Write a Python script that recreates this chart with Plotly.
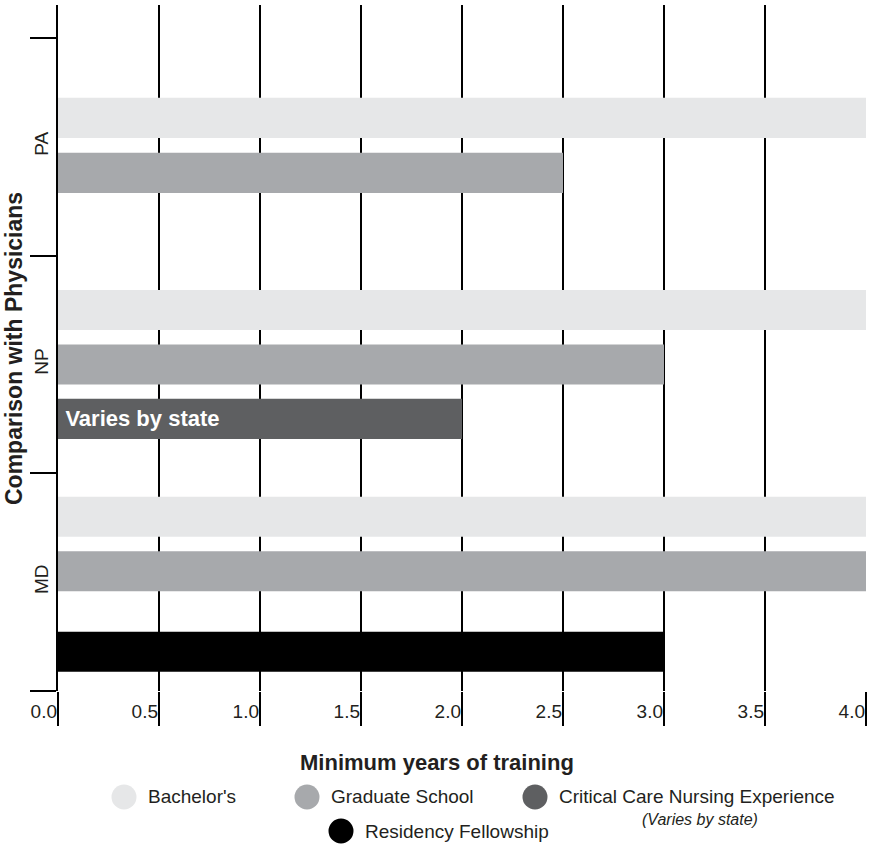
import plotly.graph_objects as go

# ---- data -------------------------------------------------------------
categories = ["MD", "NP", "PA"]
series_names = [
    "Bachelor's",
    "Graduate School",
    "Critical Care Nursing Experience",
    "Residency Fellowship",
]
bachelors = [4.0, 4.0, 4.0]
graduate_school = [4.0, 3.0, 2.5]
critical_care = [None, 2.0, None]
residency = [3.0, None, None]
critical_care_notes = [None, "\u2009Varies by state", None]
x_tick_values = [0.0, 0.5, 1.0, 1.5, 2.0, 2.5, 3.0, 3.5, 4.0]
x_title = "Minimum years of training"
y_title = "Comparison with Physicians"
legend_note = "(Varies by state)"

series_values = [bachelors, graduate_school, critical_care, residency]

# ---- styling / row layout ----------------------------------------------
colors = ["#e6e7e8", "#a7a9ac", "#5e5f61", "#000000"]
FONT = "Liberation Sans"
INK = "#231f20"

# slot of each bar inside its category band (in units of SLOT_STEP)
slot_offsets = [
    [1.2, 1.0, 0.53],
    [0.2, 0.0, -0.48],
    [None, -1.0, None],
    [-1.28, None, None],
]
SLOT_STEP = 0.25
BAR_THICKNESS = 0.184
Y_TOP = 3.151

W, H = 869, 846
M_L, M_R, M_T, M_B = 58, 3, 5, 155
PLOT_W = W - M_L - M_R
PLOT_H = H - M_T - M_B


def paper_x(px):
    return (px - M_L) / PLOT_W


def paper_y(py):
    return (H - M_B - py) / PLOT_H


fig = go.Figure()

for s, name in enumerate(series_names):
    xs, ys, texts = [], [], []
    for c, cat in enumerate(categories):
        v = series_values[s][c]
        if v is None:
            continue
        xs.append(v)
        ys.append(c + 0.5 + slot_offsets[s][c] * SLOT_STEP)
        texts.append(critical_care_notes[c] if s == 2 else None)
    fig.add_trace(
        go.Bar(
            x=xs,
            y=ys,
            orientation="h",
            width=BAR_THICKNESS,
            name=name,
            marker=dict(color=colors[s], line=dict(width=0)),
            text=texts if s == 2 else None,
            textposition="inside" if s == 2 else "none",
            insidetextanchor="start",
            textangle=0,
            constraintext="none",
            insidetextfont=dict(family=FONT, size=22, color="white", weight="bold"),
            showlegend=False,
            hoverinfo="skip",
        )
    )

fig.update_layout(
    width=W,
    height=H,
    margin=dict(l=M_L, r=M_R, t=M_T, b=M_B),
    paper_bgcolor="white",
    plot_bgcolor="white",
    barmode="overlay",
    showlegend=False,
    font=dict(family=FONT, color=INK),
)

fig.update_xaxes(
    range=[0, 4],
    tickmode="array",
    tickvals=x_tick_values,
    ticktext=[f"{v:.1f}" for v in x_tick_values],
    ticks="outside",
    ticklen=34,
    tickwidth=2,
    tickcolor="black",
    ticklabelposition="outside left",
    ticklabelstandoff=3,
    tickfont=dict(family=FONT, size=19, color=INK),
    showgrid=True,
    gridcolor="black",
    gridwidth=2,
    zeroline=False,
    showline=False,
    fixedrange=True,
)

fig.update_yaxes(
    range=[0, Y_TOP],
    tickmode="array",
    tickvals=[i + 0.5 for i in range(len(categories))],
    ticktext=categories,
    ticks="",
    tickangle=-90,
    tickfont=dict(family=FONT, size=19, color=INK),
    showgrid=False,
    zeroline=False,
    showline=True,
    linecolor="black",
    linewidth=2,
    minor=dict(
        tickmode="array",
        tickvals=list(range(len(categories) + 1)),
        ticks="outside",
        ticklen=26,
        tickwidth=2,
        tickcolor="black",
        showgrid=False,
    ),
    fixedrange=True,
)

annotations = [
    dict(
        text=y_title, x=paper_x(14), y=paper_y(349), xref="paper", yref="paper",
        textangle=-90, showarrow=False, xanchor="center", yanchor="middle",
        font=dict(family=FONT, size=23, color=INK, weight="bold"),
    ),
    dict(
        text=x_title, x=paper_x(437), y=paper_y(762), xref="paper", yref="paper",
        showarrow=False, xanchor="center", yanchor="middle",
        font=dict(family=FONT, size=22, color=INK, weight="bold"),
    ),
]

# hand-built legend: circle swatch + label for each series
legend_items = [
    (124, 797),
    (307, 797),
    (535, 797),
    (341, 831),
]
shapes = []
for (cx, cy), name, col in zip(legend_items, series_names, colors):
    shapes.append(
        dict(
            type="circle", xref="paper", yref="paper",
            xsizemode="pixel", ysizemode="pixel",
            xanchor=paper_x(cx), yanchor=paper_y(cy),
            x0=-12.5, x1=12.5, y0=-12.5, y1=12.5,
            fillcolor=col, line=dict(width=0),
        )
    )
    annotations.append(
        dict(
            text=name, x=paper_x(cx + 22), y=paper_y(cy), xref="paper", yref="paper",
            showarrow=False, xanchor="left", yanchor="middle",
            font=dict(family=FONT, size=19, color=INK),
        )
    )
annotations.append(
    dict(
        text=f"<i>{legend_note}</i>", x=paper_x(700), y=paper_y(819),
        xref="paper", yref="paper", showarrow=False,
        xanchor="center", yanchor="middle",
        font=dict(family=FONT, size=16, color=INK),
    )
)

fig.update_layout(annotations=annotations, shapes=shapes)

fig.write_html("out.html")
